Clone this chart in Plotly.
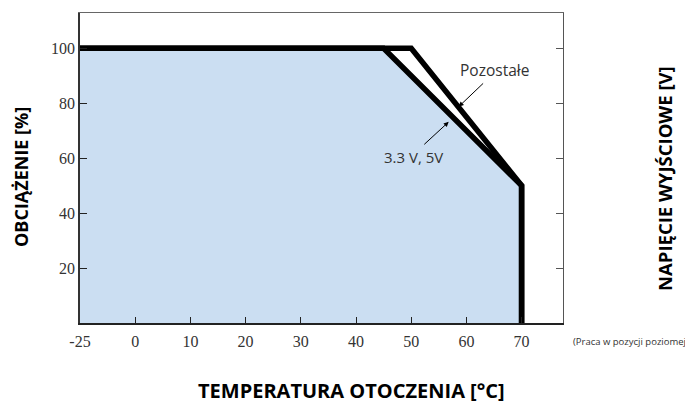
import plotly.graph_objects as go

# Axis is broken: the left edge (position -10) is labelled "-25"
tick_pos = [-10, 0, 10, 20, 30, 40, 50, 60, 70]
tick_text = ["-25", "0", "10", "20", "30", "40", "50", "60", "70"]
y_ticks = [20, 40, 60, 80, 100]

# Derating curves (x in axis units, y = load %)
pozostale_x = [-10, 50, 70, 70]
pozostale_y = [100, 100, 50, 0]
v33_x = [-10, 45, 70, 70]
v33_y = [100, 100, 50, 0]

OFF = 8  # page body margin
W, H = 693 - OFF, 403 - OFF
L, R, T, B = 80 - OFF, 130, 13 - OFF, 80
PW, PH = W - L - R, H - T - B


def px(xp):
    return (xp - OFF - L) / PW


def py(yp):
    return (H - B - (yp - OFF)) / PH


fig = go.Figure()
fig.add_trace(go.Scatter(x=v33_x, y=v33_y, mode="lines", fill="tozeroy",
                         fillcolor="#cbdef2", line=dict(color="black", width=5.5),
                         hoverinfo="skip", showlegend=False))
fig.add_trace(go.Scatter(x=pozostale_x, y=pozostale_y, mode="lines",
                         line=dict(color="black", width=5.5),
                         hoverinfo="skip", showlegend=False))
fig.add_trace(go.Scatter(x=[None], y=[None], xaxis="x2", yaxis="y2",
                         showlegend=False, hoverinfo="skip"))

tick_font = dict(family="Liberation Serif", size=16, color="#333")
fig.update_layout(
    width=W, height=H,
    margin=dict(l=L, r=R, t=T, b=B),
    paper_bgcolor="white", plot_bgcolor="white",
    xaxis=dict(range=[-10, 77.5], tickvals=tick_pos, ticktext=tick_text,
               ticks="inside", ticklen=6, tickwidth=1.2, tickcolor="#222",
               showline=True, linecolor="#222", linewidth=2,
               showgrid=False, zeroline=False, tickfont=tick_font,
               ticklabelstandoff=3, fixedrange=True),
    yaxis=dict(range=[0, 112.8], tickvals=y_ticks,
               ticks="inside", ticklen=7, tickwidth=1.2, tickcolor="#222",
               showline=True, linecolor="#333", linewidth=1.5,
               showgrid=False, zeroline=False, tickfont=tick_font,
               ticklabelstandoff=0, fixedrange=True),
    xaxis2=dict(range=[-10, 77.5], overlaying="x", side="top", showline=True,
                linecolor="#666", linewidth=1, showticklabels=False, ticks="",
                showgrid=False, zeroline=False, anchor="y2"),
    yaxis2=dict(range=[0, 112.8], overlaying="y", side="right", tickvals=y_ticks,
                ticks="inside", ticklen=7, tickcolor="#555", showline=True,
                linecolor="#555", linewidth=1, showticklabels=False,
                showgrid=False, zeroline=False, anchor="x2"),
)

ann = [
    dict(text="<b>OBCIĄŻENIE [%]</b>", xref="paper", yref="paper",
         x=px(21), y=py(177), xanchor="center", yanchor="middle",
         textangle=-90, showarrow=False,
         font=dict(family="Open Sans", size=18, color="black")),
    dict(text="<b>NAPIĘCIE WYJŚCIOWE [V]</b>", xref="paper", yref="paper",
         x=px(665), y=py(179), xanchor="center", yanchor="middle",
         textangle=-90, showarrow=False,
         font=dict(family="Open Sans", size=18.5, color="black")),
    dict(text="<b>TEMPERATURA OTOCZENIA [°C]</b>", xref="paper", yref="paper",
         x=px(351), y=py(391), xanchor="center", yanchor="middle",
         showarrow=False,
         font=dict(family="Open Sans", size=20, color="black")),
    dict(text="(Praca w pozycji poziomej)", xref="paper", yref="paper",
         x=px(571), y=py(341), xanchor="left", yanchor="middle", showarrow=False,
         font=dict(family="Open Sans", size=9.5, color="#333")),
    dict(text="Pozostałe", x=65.1, y=92.1, showarrow=False,
         xanchor="center", yanchor="middle",
         font=dict(family="Open Sans", size=15.5, color="#333")),
    dict(text="3.3 V, 5V", x=50.5, y=60.5, showarrow=False,
         xanchor="center", yanchor="middle",
         font=dict(family="Open Sans", size=15, color="#333")),
    dict(text="", x=58.6, y=78.7, ax=63.3, ay=87.7, axref="x", ayref="y",
         showarrow=True, arrowhead=2, arrowsize=1, arrowwidth=1, arrowcolor="black"),
    dict(text="", x=56.8, y=73.2, ax=52.1, ay=64.5, axref="x", ayref="y",
         showarrow=True, arrowhead=2, arrowsize=1, arrowwidth=1, arrowcolor="black"),
]
fig.update_layout(annotations=ann)

fig.write_html("out.html")
